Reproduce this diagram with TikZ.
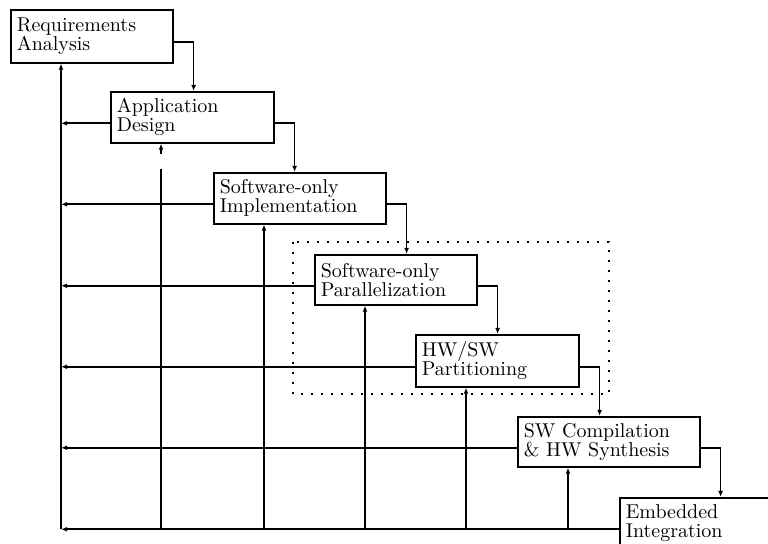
\documentclass[tikz,border=0pt]{standalone}
\usetikzlibrary{arrows.meta}
\begin{document}
\begin{tikzpicture}[x=0.5pt,y=-0.5pt,
  stage/.style={draw, rectangle, line width=0.8pt, anchor=north west,
    inner xsep=3pt, inner ysep=0pt, align=left,
    font=\fontsize{10}{9.5}\selectfont},
  flow/.style={line width=0.8pt, -{Latex[length=3pt,width=2.4pt]}},
  plain/.style={line width=0.8pt},
  group/.style={line width=1pt, dash pattern=on 1pt off 4pt}]
\useasboundingbox (0,0) rectangle (768,544);
\fill[white] (0,0) rectangle (768,544);
\clip (0,0) rectangle (768,544);

% process stages
\node[stage, text width=75pt, minimum height=26.5pt] (b1) at (10,9)
  {Requirements\\Analysis};
\node[stage, text width=75.5pt, minimum height=25.5pt] (b2) at (110,91)
  {Application\\Design};
\node[stage, text width=80pt, minimum height=25.5pt] (b3) at (213,172)
  {Software-only\\Implementation};
\node[stage, text width=75pt, minimum height=25pt] (b4) at (314,254)
  {Software-only\\Parallelization};
\node[stage, text width=75.5pt, minimum height=26pt] (b5) at (415,334)
  {HW/SW\\Partitioning};
\node[stage, text width=85pt, minimum height=25pt] (b6) at (517,416)
  {SW Compilation\\\& HW Synthesis};
\node[stage, text width=79pt, minimum height=25.5pt] (b7) at (619,497)
  {Embedded\\Integration};

% hardware/software co-design group
\draw[group] (293,242) rectangle (609,394);

% ports on the box sides
\foreach \i in {1,...,7} {
  \coordinate (e\i) at ([yshift=-3pt]b\i.east);
  \coordinate (w\i) at ([yshift=-3pt]b\i.west);
  \coordinate (u\i) at ([xshift=25.5pt]b\i.south west);
  \coordinate (d\i) at ([xshift=10pt]e\i);
}

% forward flow
\foreach \i/\j in {1/2,2/3,3/4,4/5,5/6,6/7}
  \draw[flow] (e\i) -- (d\i) -- (d\i |- b\j.north);

% feedback paths to the left rail
\foreach \i in {2,...,6}
  \draw[flow] (w\i) -- (w\i -| u1);
\draw[flow] (w7) -- (w7 -| u1);
\draw[flow] (w7 -| u1) -- (u1);

% upward feedback into each stage
\draw[plain] (u2 |- w7) -- ([yshift=-12.5pt]u2);
\draw[flow] ([yshift=-5pt]u2) -- (u2);
\foreach \i in {3,...,6}
  \draw[flow] (u\i |- w7) -- (u\i);
\end{tikzpicture}
\end{document}
